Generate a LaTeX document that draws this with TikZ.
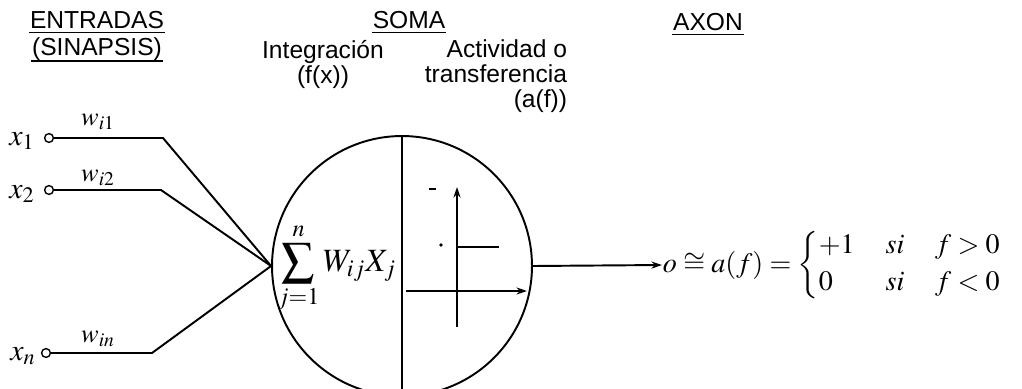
\documentclass[tikz,border=0pt]{standalone}
\usepackage{amsmath}
\usepackage{mathptmx}
\usepackage[no-math]{fontspec}
\setmainfont{Liberation Sans}
\usetikzlibrary{arrows.meta}

\tikzset{
  lbl/.style={inner sep=0pt, font=\fontsize{14}{14.2}\selectfont},
  mth/.style={inner sep=0pt, font=\fontsize{17}{20}\selectfont},
  peso/.style={inner sep=0pt, font=\fontsize{15}{18}\selectfont},
  entrada/.style={draw, circle, inner sep=0pt, minimum size=5pt, line width=0.8pt, fill=white},
}

\begin{document}
\begin{tikzpicture}[x=0.02cm, y=-0.02cm, line width=1.1pt,
    >={Stealth[length=6pt, width=4pt]}]
  \clip (0,0) rectangle (1022,389);

  % encabezados
  \node[lbl, anchor=base] (entr) at (97,28) {ENTRADAS};
  \draw[line width=0.8pt]
    ([yshift=-2.5pt] entr.base west) -- ([yshift=-2.5pt] entr.base east);
  \node[lbl, anchor=base] (sinap) at (97,55) {(SINAPSIS)};
  \draw[line width=0.8pt]
    ([yshift=-3.5pt] sinap.base west) -- ([yshift=-3.5pt] sinap.base east);
  \node[lbl, anchor=base] (somah) at (409,28) {SOMA};
  \draw[line width=0.8pt]
    ([yshift=-2.5pt] somah.base west) -- ([yshift=-2.5pt] somah.base east);
  \node[lbl, anchor=base] (axonh) at (708,30) {AXON};
  \draw[line width=0.8pt]
    ([yshift=-2.5pt] axonh.base west) -- ([yshift=-2.5pt] axonh.base east);

  \node[lbl, align=center, anchor=north] (integ) at (323,39)
    {Integración\\(f(x))};
  \node[lbl, align=right, anchor=north east] (activ) at (568,39)
    {Actividad o\\transferencia\\(a(f))};

  % entradas
  \node[entrada] (in1) at (49,138) {};
  \node[entrada] (in2) at (49,190) {};
  \node[entrada] (inn) at (46,353) {};
  \node[mth] (x1) at (22,141) {$x_1$};
  \node[mth] (x2) at (22,194) {$x_2$};
  \node[mth] (xn) at (23,356) {$x_n$};
  \node[peso] (w1) at (98,122) {$w_{i1}$};
  \node[peso] (w2) at (98,178) {$w_{i2}$};
  \node[peso] (wn) at (98,339) {$w_{in}$};

  \coordinate (k1) at (163,138);
  \coordinate (k2) at (161,190);
  \coordinate (kn) at (152,353);

  % soma
  \node[draw, circle, minimum size=5.2cm, inner sep=0pt] (soma) at (402,266) {};
  \draw (soma.north) -- (soma.south);

  \draw (in1) -- (k1) -- (soma.west);
  \draw (in2) -- (k2) -- (soma.west);
  \draw (inn) -- (kn) -- (soma.west);

  \node[inner sep=0pt, font=\fontsize{18.5}{22}\selectfont] (suma) at (337,268)
    {$\displaystyle\sum_{j=1}^{n} W_{ij} X_j$};

  % funcion de activacion
  \draw[->] (457,327) -- (457,187);
  \draw[->] (406,291) -- (527,291);
  \draw (457,247) -- (499,247);
  \draw[line width=1.6pt] (429,189) -- (436,189);
  \fill (441,245) circle (1pt);

  % salida
  \node[inner sep=0pt, font=\fontsize{16}{19}\selectfont, anchor=west] (out) at (662,265)
    {$o\cong a(f) = \left\{\begin{array}{@{}l@{\hspace{1.1em}}l@{\hspace{1.1em}}l@{}}
      +1 & si & f>0\\[2pt]
      0 & si & f<0
    \end{array}\right.$};
  \draw[->] (soma.east) -- (out.west);
\end{tikzpicture}
\end{document}
